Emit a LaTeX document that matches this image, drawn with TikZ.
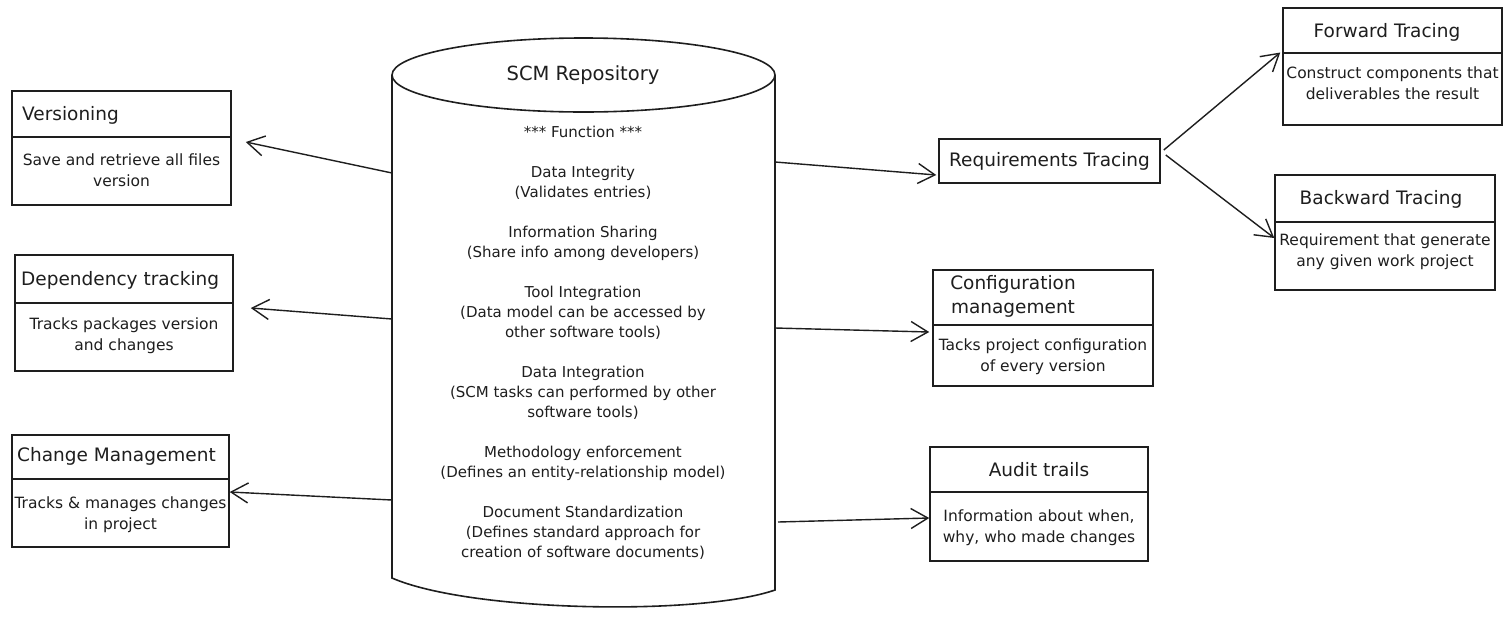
\documentclass[tikz,border=0pt]{standalone}
\usepackage{fontspec}
\setmainfont{DejaVu Sans}
\usetikzlibrary{arrows.meta,calc}
\definecolor{ink}{HTML}{1E1E1E}
\tikzset{
  box/.style={draw=ink, line width=1.5pt, rectangle, inner sep=0pt},
  divider/.style={draw=ink, line width=1.3pt},
  ttl/.style={text=ink, inner sep=0pt, font=\fontsize{18.5}{22}\selectfont},
  bdy/.style={text=ink, inner sep=0pt, align=center, font=\fontsize{15.5}{21}\selectfont},
  conn/.style={draw=ink, line width=1.4pt, -{Straight Barb[length=17pt,width=20pt,line width=1.4pt]}},
  outline/.style={draw=ink, line width=1.6pt}
}
\begin{document}
\begin{tikzpicture}[x=1pt,y=-1pt]
\useasboundingbox (0,0) rectangle (1511,630);
\fill[white] (0,0) rectangle (1511,630);

% ---- cylinder (SCM repository)
\draw[outline] (392,75) -- (392,578)
  .. controls (470,612) and (700,616) .. (775,590) -- (775,75);
\draw[outline, fill=white] (583.5,75) ellipse [x radius=191.5, y radius=37];
\node[ttl, font=\fontsize{19.5}{22}\selectfont] (repotitle) at (583,75) {SCM Repository};
\node[bdy, font=\fontsize{15}{20}\selectfont] (repo) at (583,343) {*** Function ***\\[20pt]
Data Integrity\\(Validates entries)\\[20pt]
Information Sharing\\(Share info among developers)\\[20pt]
Tool Integration\\(Data model can be accessed by\\other software tools)\\[20pt]
Data Integration\\(SCM tasks can performed by other\\software tools)\\[20pt]
Methodology enforcement\\(Defines an entity-relationship model)\\[20pt]
Document Standardization\\(Defines standard approach for\\creation of software documents)};

\coordinate (sv) at (392,173);
\coordinate (sd) at (392,319);
\coordinate (sc) at (392,500);
\coordinate (sr) at (775,162);
\coordinate (sf) at (775,328);
\coordinate (sa) at (778,522);

% ---- left boxes
\node[box, minimum width=219pt, minimum height=114pt] (vers) at (121.5,148) {};
\draw[divider] (12,137) -- (231,137);
\node[ttl, anchor=west] (verst) at (22,115) {Versioning};
\node[bdy] (versb) at (121.5,170.5) {Save and retrieve all files\\version};

\node[box, minimum width=218pt, minimum height=116pt] (dep) at (124,313) {};
\draw[divider] (15,303) -- (233,303);
\node[ttl, anchor=west] (dept) at (21,280) {Dependency tracking};
\node[bdy] (depb) at (124,335.5) {Tracks packages version\\and changes};

\node[box, minimum width=217pt, minimum height=112pt] (chg) at (120.5,491) {};
\draw[divider] (12,479) -- (229,479);
\node[ttl, anchor=west] (chgt) at (17,456) {Change Management};
\node[bdy] (chgb) at (120.5,514.5) {Tracks \& manages changes\\in project};

% ---- right boxes
\node[box, minimum width=221pt, minimum height=44pt] (req) at (1049.5,161) {};
\node[ttl] (reqt) at (1049.5,161) {Requirements Tracing};

\node[box, minimum width=220pt, minimum height=116pt] (conf) at (1043,328) {};
\draw[divider] (933,325) -- (1153,325);
\node[ttl, align=center, font=\fontsize{18.5}{24}\selectfont] (conft) at (1013,296) {Configuration\\management};
\node[bdy] (confb) at (1043,356.5) {Tacks project configuration\\of every version};

\node[box, minimum width=218pt, minimum height=114pt] (audit) at (1039,504) {};
\draw[divider] (930,492) -- (1148,492);
\node[ttl] (auditt) at (1039,470) {Audit trails};
\node[bdy] (auditb) at (1039,527.5) {Information about when,\\why, who made changes};

\node[box, minimum width=219pt, minimum height=117pt] (fwd) at (1392.5,66.5) {};
\draw[divider] (1283,53) -- (1502,53);
\node[ttl] (fwdt) at (1387,32) {Forward Tracing};
\node[bdy] (fwdb) at (1392.5,83) {Construct components that\\deliverables the result};

\node[box, minimum width=220pt, minimum height=115pt] (bwd) at (1385,232.5) {};
\draw[divider] (1275,222) -- (1495,222);
\node[ttl] (bwdt) at (1381,199) {Backward Tracing};
\node[bdy] (bwdb) at (1385,252) {Requirement that generate\\any given work project};

% ---- connectors
\draw[conn] (sv) -- ($(vers.east)+(14,-6)$);
\draw[conn] (sd) -- ($(dep.east)+(17,-5)$);
\draw[conn] (sc) -- ($(chg.east)+(0,1)$);
\draw[conn] (sr) -- ($(req.west)+(-2,14)$);
\draw[conn] (sf) -- ($(conf.west)+(-3,4)$);
\draw[conn] (sa) -- ($(audit.west)+(0,14)$);
\draw[conn] ($(req.east)+(3,-11)$) -- ($(fwd.west)+(-2,-14)$);
\draw[conn] ($(req.east)+(5,-6)$) -- ($(bwd.west)+(0,5.5)$);
\end{tikzpicture}
\end{document}
